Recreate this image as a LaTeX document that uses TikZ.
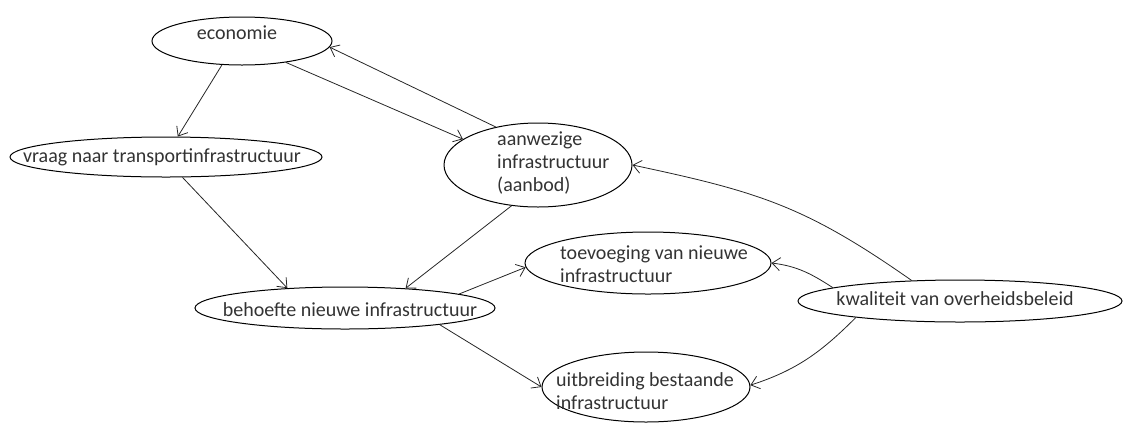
\documentclass[tikz,border=0pt]{standalone}
\usepackage{fontspec}
\setmainfont{Carlito}
\usetikzlibrary{shapes.geometric,arrows.meta}
\begin{document}
\begin{tikzpicture}[x=1pt,y=-1pt,
  oval/.style={ellipse,draw=black,line width=1pt,inner sep=0pt,fill=white},
  lbl/.style={inner sep=0pt,text=black!80,font=\fontsize{20}{23}\selectfont,align=left},
  conn/.style={draw=black!85,line width=0.8pt,-{Straight Barb[length=8pt,width=13pt,line width=0.8pt]}}]
\useasboundingbox (0,0) rectangle (1123,424);
% ellipses
\node[oval,minimum width=180pt,minimum height=48pt] (eco) at (242,41) {};
\node[oval,minimum width=312pt,minimum height=40pt] (vraag) at (166,157) {};
\node[oval,minimum width=188pt,minimum height=84pt] (aanw) at (538,165) {};
\node[oval,minimum width=300pt,minimum height=42pt] (beh) at (345,308) {};
\node[oval,minimum width=246pt,minimum height=62pt] (toev) at (648,263) {};
\node[oval,minimum width=324pt,minimum height=42pt] (kwal) at (960,301) {};
\node[oval,minimum width=208pt,minimum height=70pt] (uitb) at (646,387) {};
% labels
\node[lbl] (teco) at (237,33) {economie};
\node[lbl] (tvraag) at (162,157) {vraag naar transportinfrastructuur};
\node[lbl,anchor=west] (taanw) at (497,163) {aanwezige\\infrastructuur\\(aanbod)};
\node[lbl] (tbeh) at (350,310) {behoefte nieuwe infrastructuur};
\node[lbl,anchor=west] (ttoev) at (560,264) {toevoeging van nieuwe\\infrastructuur};
\node[lbl] (tkwal) at (955,299) {kwaliteit van overheidsbeleid};
\node[lbl,anchor=west] (tuitb) at (556,391) {uitbreiding bestaande\\infrastructuur};
% connectors
\draw[conn] (eco.230) -- (vraag.60);
\draw[conn] (eco.-26) -- (aanw.161);
\draw[conn] (aanw.138) -- (eco.-4);
\draw[conn] (vraag.-51) -- (beh.161);
\draw[conn] (aanw.-123) -- (beh.18);
\draw[conn] (beh.7) -- (toev.182);
\draw[conn] (beh.-10) -- (uitb.180);
\draw[conn] (kwal.174) to[out=147,in=-7] (toev.0);
\draw[conn] (kwal.157) to[out=145,in=-12,looseness=1.1] (aanw.0);
\draw[conn] (kwal.189) to[out=-135,in=18] (uitb.1);
\end{tikzpicture}
\end{document}
